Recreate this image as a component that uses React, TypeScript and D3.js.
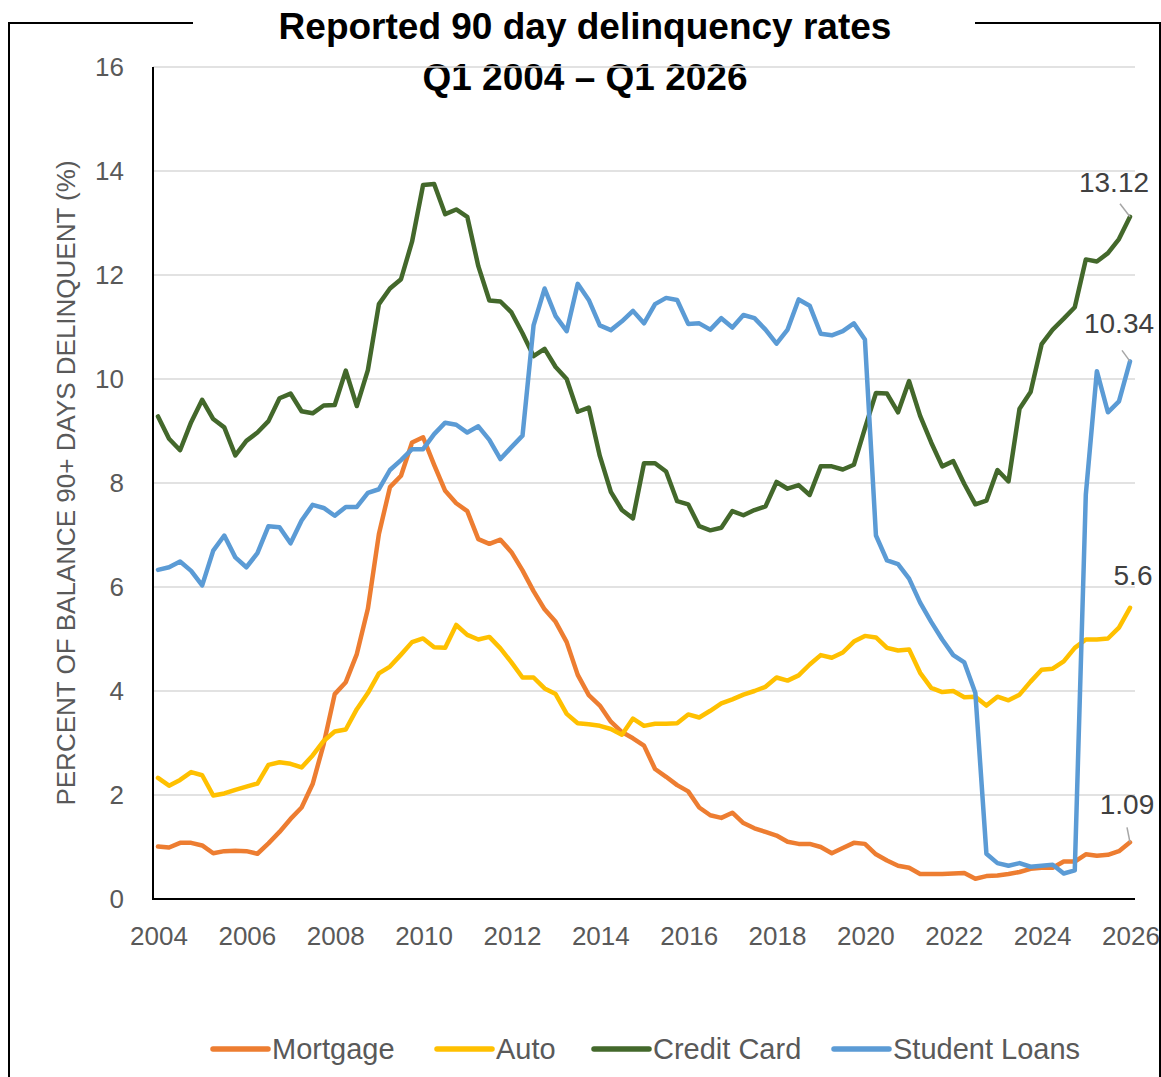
import React from "react";
import * as d3 from "d3";

// quarterly values, Q1 2004 .. Q1 2026 (89 quarters)
const mortgage = [
  1.01, 0.99, 1.08, 1.08, 1.03, 0.88, 0.92, 0.93, 0.92, 0.87, 1.07, 1.29, 1.54, 1.76, 2.21, 2.98,
  3.94, 4.17, 4.71, 5.58, 7.02, 7.92, 8.14, 8.78, 8.88, 8.35, 7.85, 7.61, 7.46, 6.92, 6.83, 6.91,
  6.67, 6.32, 5.92, 5.57, 5.33, 4.94, 4.31, 3.92, 3.72, 3.41, 3.21, 3.09, 2.95, 2.5, 2.35, 2.19,
  2.07, 1.76, 1.61, 1.56, 1.66, 1.46, 1.36, 1.29, 1.22, 1.1, 1.06, 1.06, 1.0, 0.88, 0.98, 1.08,
  1.06, 0.86, 0.74, 0.64, 0.6, 0.48, 0.48, 0.48, 0.49, 0.5, 0.39, 0.44, 0.45, 0.48, 0.52, 0.58,
  0.6, 0.6, 0.72, 0.72, 0.86, 0.83, 0.85, 0.92, 1.09,
];

const auto = [
  2.33, 2.18, 2.29, 2.44, 2.38, 1.99, 2.03, 2.1, 2.16, 2.22, 2.58, 2.63, 2.6, 2.53, 2.76, 3.04,
  3.22, 3.26, 3.65, 3.96, 4.34, 4.47, 4.7, 4.94, 5.01, 4.84, 4.83, 5.27, 5.08, 4.99, 5.04, 4.82,
  4.55, 4.26, 4.26, 4.05, 3.94, 3.56, 3.38, 3.36, 3.33, 3.27, 3.16, 3.47, 3.33, 3.37, 3.37, 3.38,
  3.55, 3.49, 3.62, 3.76, 3.84, 3.93, 4.0, 4.08, 4.26, 4.2, 4.3, 4.51, 4.69, 4.64, 4.74, 4.95,
  5.06, 5.03, 4.83, 4.78, 4.8, 4.35, 4.06, 3.98, 4.0, 3.88, 3.89, 3.72, 3.89, 3.82, 3.93, 4.18,
  4.41, 4.43, 4.57, 4.83, 4.99, 4.99, 5.01, 5.22, 5.6,
];

const creditCard = [
  9.28, 8.85, 8.63, 9.17, 9.6, 9.23, 9.07, 8.53, 8.81, 8.97, 9.19, 9.63, 9.72, 9.38, 9.34, 9.49,
  9.5, 10.16, 9.48, 10.17, 11.44, 11.74, 11.92, 12.64, 13.73, 13.75, 13.17, 13.26, 13.12, 12.17, 11.51, 11.49,
  11.28, 10.88, 10.44, 10.58, 10.23, 10.0, 9.37, 9.45, 8.52, 7.83, 7.48, 7.32, 8.38, 8.38, 8.22, 7.65,
  7.59, 7.17, 7.09, 7.14, 7.46, 7.38, 7.48, 7.55, 8.02, 7.89, 7.96, 7.77, 8.32, 8.32, 8.26, 8.35,
  9.05, 9.73, 9.72, 9.36, 9.96, 9.29, 8.78, 8.32, 8.42, 7.98, 7.59, 7.66, 8.25, 8.03, 9.43, 9.75,
  10.67, 10.95, 11.16, 11.38, 12.3, 12.26, 12.42, 12.69, 13.12,
];

const studentLoans = [
  6.33, 6.38, 6.49, 6.31, 6.03, 6.7, 6.99, 6.57, 6.38, 6.65, 7.17, 7.15, 6.84, 7.28, 7.58, 7.52,
  7.37, 7.54, 7.54, 7.81, 7.88, 8.25, 8.44, 8.65, 8.65, 8.94, 9.16, 9.12, 8.97, 9.09, 8.83, 8.46,
  8.69, 8.91, 11.03, 11.74, 11.21, 10.92, 11.83, 11.52, 11.03, 10.94, 11.11, 11.31, 11.07, 11.44, 11.56, 11.52,
  11.06, 11.07, 10.95, 11.17, 10.99, 11.23, 11.17, 10.95, 10.68, 10.95, 11.53, 11.41, 10.87, 10.84, 10.92, 11.07,
  10.76, 6.99, 6.51, 6.44, 6.16, 5.7, 5.33, 4.99, 4.69, 4.55, 3.96, 0.87, 0.69, 0.64, 0.69, 0.62,
  0.64, 0.66, 0.49, 0.55, 7.78, 10.15, 9.36, 9.57, 10.34,
];

const seriesNames = ["Mortgage", "Auto", "Credit Card", "Student Loans"];
const seriesColors = ["#ED7D31", "#FFC000", "#43682B", "#5B9BD5"];
const yTicks = [0, 2, 4, 6, 8, 10, 12, 14, 16];
const xTicks = [2004, 2006, 2008, 2010, 2012, 2014, 2016, 2018, 2020, 2022, 2024, 2026];
const endLabels = ["1.09", "5.6", "13.12", "10.34"];

const W = 1161;
const H = 1077;
const FONT = "'Liberation Sans', Arial, sans-serif";

export default function App() {
  const allSeries = [mortgage, auto, creditCard, studentLoans];

  const x = d3.scaleLinear().domain([2004, 2026]).range([158, 1130]);
  const y = d3.scaleLinear().domain([0, 16]).range([899, 67]);

  const line = d3
    .line<number>()
    .x((_, i) => x(2004 + i / 4))
    .y((d) => y(d));

  // label placement relative to the last point: text offset and leader end
  const labelPos = [
    { dx: -3, dy: -38, lx: -3, ly: -15, leader: true },
    { dx: 3, dy: -33, lx: 0, ly: 0, leader: false },
    { dx: -16, dy: -35, lx: -10, ly: -13, leader: true },
    { dx: -11, dy: -38, lx: -8, ly: -11, leader: true },
  ];

  const legendX = [213, 437, 594, 834];

  return (
    <svg
      width={W}
      height={H}
      style={{ position: "absolute", left: 0, top: 0, background: "#fff" }}
    >
      {/* outer frame with a gap for the title */}
      <g stroke="#000" strokeWidth={2} fill="none">
        <path d={`M9,${H + 5}V23H193`} />
        <path d={`M975,23H1160V${H + 5}`} />
      </g>

      {/* title */}
      <g fontFamily={FONT} fontWeight="bold" fontSize={37} textAnchor="middle" fill="#000">
        <text x={585} y={39}>Reported 90 day delinquency rates</text>
        <text x={585} y={90}>Q1 2004 – Q1 2026</text>
      </g>

      {/* gridlines */}
      {yTicks
        .filter((t) => t > 0)
        .map((t) => (
          <line key={t} x1={153} x2={1135} y1={y(t)} y2={y(t)} stroke="#D9D9D9" strokeWidth={1.5} />
        ))}

      {/* axes */}
      <line x1={153} x2={153} y1={y(16)} y2={y(0)} stroke="#000" strokeWidth={2} />
      <line x1={152} x2={1135} y1={y(0)} y2={y(0)} stroke="#000" strokeWidth={2} />

      {/* tick labels */}
      <g fontFamily={FONT} fontSize={26} fill="#595959">
        {yTicks.map((t) => (
          <text key={t} x={124} y={y(t) + 9} textAnchor="end">
            {t}
          </text>
        ))}
        {xTicks.map((t) => (
          <text key={t} x={x(t) + 1} y={945} textAnchor="middle">
            {t}
          </text>
        ))}
      </g>

      {/* y axis title */}
      <text
        transform={`translate(75,${(y(0) + y(16)) / 2}) rotate(-90)`}
        textAnchor="middle"
        fontFamily={FONT}
        fontSize={26}
        fill="#595959"
      >
        PERCENT OF BALANCE 90+ DAYS DELINQUENT (%)
      </text>

      {/* series */}
      {allSeries.map((s, i) => (
        <path
          key={seriesNames[i]}
          d={line(s) || ""}
          fill="none"
          stroke={seriesColors[i]}
          strokeWidth={4.5}
          strokeLinejoin="round"
          strokeLinecap="round"
        />
      ))}

      {/* end labels */}
      <g fontFamily={FONT} fontSize={28} fill="#404040" textAnchor="middle">
        {allSeries.map((s, i) => {
          const last = s[s.length - 1];
          const px = x(2026);
          const py = y(last);
          const p = labelPos[i];
          return (
            <g key={i}>
              {p.leader && (
                <line
                  x1={px}
                  y1={py}
                  x2={px + p.lx}
                  y2={py + p.ly}
                  stroke="#A6A6A6"
                  strokeWidth={1.5}
                />
              )}
              <text x={px + p.dx} y={py + p.dy + 10}>
                {endLabels[i]}
              </text>
            </g>
          );
        })}
      </g>

      {/* legend */}
      <g fontFamily={FONT} fontSize={29} fill="#595959">
        {seriesNames.map((n, i) => (
          <g key={n}>
            <line
              x1={legendX[i]}
              x2={legendX[i] + 55}
              y1={1049}
              y2={1049}
              stroke={seriesColors[i]}
              strokeWidth={5.5}
              strokeLinecap="round"
            />
            <text x={legendX[i] + 59} y={1059}>
              {n}
            </text>
          </g>
        ))}
      </g>
    </svg>
  );
}
